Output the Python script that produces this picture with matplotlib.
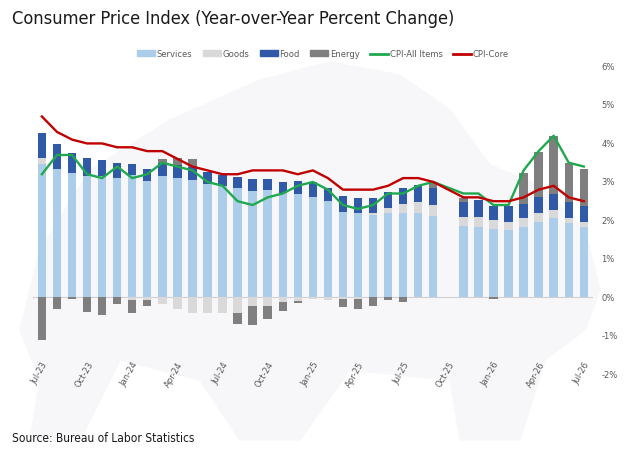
import numpy as np
import matplotlib.pyplot as plt
from matplotlib import font_manager as fm
from matplotlib.patches import Patch, Polygon
from matplotlib.lines import Line2D

months = ['Jul-23', 'Aug-23', 'Sep-23', 'Oct-23', 'Nov-23', 'Dec-23',
          'Jan-24', 'Feb-24', 'Mar-24', 'Apr-24', 'May-24', 'Jun-24',
          'Jul-24', 'Aug-24', 'Sep-24', 'Oct-24', 'Nov-24', 'Dec-24',
          'Jan-25', 'Feb-25', 'Mar-25', 'Apr-25', 'May-25', 'Jun-25',
          'Jul-25', 'Aug-25', 'Sep-25', 'Oct-25', 'Nov-25', 'Dec-25',
          'Jan-26', 'Feb-26', 'Mar-26', 'Apr-26', 'May-26', 'Jun-26',
          'Jul-26']

# contributions (pct points); Oct-25 was never published
services = [3.46, 3.34, 3.24, 3.16, 3.16, 3.11, 3.18, 3.03, 3.16, 3.11, 3.05, 2.94,
            2.90, 2.85, 2.77, 2.79, 2.72, 2.68, 2.62, 2.51, 2.23, 2.20, 2.14, 2.20,
            2.20, 2.20, 2.12, None, 1.86, 1.83, 1.77, 1.75, 1.84, 1.97, 2.06, 1.93,
            1.82]
goods = [0.15, 0.0, 0.0, 0.0, 0.0, 0.0, -0.07, -0.07, -0.16, -0.29, -0.40, -0.40,
         -0.41, -0.40, -0.22, -0.22, -0.13, -0.09, -0.04, -0.06, -0.03, -0.03, 0.05, 0.12,
         0.23, 0.27, 0.28, None, 0.24, 0.27, 0.23, 0.22, 0.23, 0.22, 0.21, 0.13,
         0.15]
food = [0.66, 0.64, 0.52, 0.45, 0.40, 0.37, 0.28, 0.31, 0.34, 0.33, 0.35, 0.33,
        0.28, 0.29, 0.31, 0.29, 0.29, 0.34, 0.39, 0.34, 0.41, 0.38, 0.40, 0.41,
        0.41, 0.44, 0.43, None, 0.37, 0.43, 0.38, 0.41, 0.36, 0.43, 0.42, 0.41,
        0.41]
energy = [-1.11, -0.31, -0.05, -0.38, -0.45, -0.16, -0.33, -0.15, 0.09, 0.17, 0.20, 0.0,
          0.0, -0.29, -0.50, -0.35, -0.22, -0.06, 0.0, 0.0, -0.22, -0.26, -0.22, -0.06,
          -0.11, 0.0, 0.15, None, 0.12, 0.0, -0.03, 0.0, 0.81, 1.15, 1.51, 1.01,
          0.96]
cpi_all = [3.2, 3.7, 3.7, 3.2, 3.1, 3.4, 3.1, 3.2, 3.5, 3.4, 3.3, 3.0,
           2.9, 2.5, 2.4, 2.6, 2.7, 2.9, 3.0, 2.8, 2.4, 2.3, 2.4, 2.7,
           2.7, 2.9, 3.0, None, 2.7, 2.7, 2.4, 2.4, 3.3, 3.8, 4.2, 3.5,
           3.4]
cpi_core = [4.7, 4.3, 4.1, 4.0, 4.0, 3.9, 3.9, 3.8, 3.8, 3.6, 3.4, 3.3,
            3.2, 3.2, 3.3, 3.3, 3.3, 3.2, 3.3, 3.1, 2.8, 2.8, 2.8, 2.9,
            3.1, 3.1, 3.0, None, 2.6, 2.6, 2.5, 2.5, 2.6, 2.8, 2.9, 2.6,
            2.5]

names = ['Services', 'Goods', 'Food', 'Energy']
colors = ['#abcdea', '#d9d9d9', '#3059a8', '#7f7f7f']
green = '#1fa84d'
red = '#c00000'
grey_txt = '#595959'

# pick a narrow face if one is installed
fonts = fm.fontManager.ttflist
names_avail = {f.name for f in fonts}
if 'Liberation Sans Narrow' in names_avail:
    narrow = dict(family='Liberation Sans Narrow')
    squeeze = 1.0
elif any(f.name == 'DejaVu Sans' and f.stretch == 'condensed' for f in fonts):
    narrow = dict(family='DejaVu Sans', stretch='condensed')
    squeeze = 0.9
else:
    narrow = dict(family='Lato')
    squeeze = 0.9

x = np.arange(len(months))
ok = np.array([v is not None for v in services])

fig = plt.figure(figsize=(6.32, 4.55), dpi=100)

# faint bull silhouette behind the chart
W, H = 632, 455
bull = [(20, 330), (40, 250), (90, 170), (170, 120), (260, 80), (330, 62),
        (400, 75), (450, 110), (490, 165), (540, 185), (585, 230), (600, 290),
        (585, 330), (545, 360), (520, 440), (460, 440), (450, 380), (350, 370),
        (300, 440), (240, 440), (200, 380), (120, 360), (80, 440), (30, 440),
        (40, 380)]
fig.patches.append(Polygon([(px / W, 1 - py / H) for px, py in bull], closed=True,
                           transform=fig.transFigure, color='#f7f7f9', zorder=-10))

ax = fig.add_axes([0.052, 0.177, 0.886, 0.677])

pos_b = np.zeros(ok.sum())
neg_b = np.zeros(ok.sum())
for name, vals, c in zip(names, [services, goods, food, energy], colors):
    v = np.array([a for a in vals if a is not None])
    p = np.where(v > 0, v, 0)
    n = np.where(v < 0, v, 0)
    ax.bar(x[ok], p, 0.56, bottom=pos_b, color=c, zorder=2)
    ax.bar(x[ok], n, 0.56, bottom=neg_b, color=c, zorder=2)
    pos_b += p
    neg_b += n

ax.plot(x[ok], [a for a in cpi_all if a is not None], color=green, lw=1.7, zorder=3)
ax.plot(x[ok], [a for a in cpi_core if a is not None], color=red, lw=1.7, zorder=3)
ax.axhline(0, color='#d0d0d0', lw=0.8, zorder=1)

ax.set_xlim(-0.6, 36.6)
ax.set_ylim(-2, 6)
ax.set_xticks(x[::3])
ax.set_xticklabels(months[::3], rotation=60, ha='right', va='top',
                   rotation_mode='anchor', fontsize=7.5 * squeeze, color=grey_txt,
                   **narrow)
ax.tick_params(axis='x', length=0, pad=-10)
ax.yaxis.tick_right()
ax.set_yticks(range(-2, 7))
ax.set_yticklabels([f'{t}%' for t in range(-2, 7)], fontsize=7.5 * squeeze,
                   color=grey_txt, **narrow)
ax.tick_params(axis='y', length=0, pad=6)
for s in ax.spines.values():
    s.set_visible(False)
ax.patch.set_alpha(0)

handles = [Patch(color=c, label=n) for n, c in zip(names, colors)]
handles += [Line2D([], [], color=green, lw=2, label='CPI-All Items'),
            Line2D([], [], color=red, lw=2, label='CPI-Core')]
fig.legend(handles=handles, loc='center', bbox_to_anchor=(0.511, 0.881), ncol=6,
           frameon=False, labelcolor=grey_txt, handlelength=1.9,
           handleheight=0.6, handletextpad=0.2, columnspacing=1.1,
           prop=fm.FontProperties(size=7.5 * squeeze, **narrow))

fig.text(0.019, 0.958, 'Consumer Price Index (Year-over-Year Percent Change)',
         fontsize=14.5 * squeeze, va='center', color='#1a1a1a', **narrow)
fig.text(0.019, 0.037, 'Source: Bureau of Labor Statistics', fontsize=9.5 * squeeze,
         va='center', color='#1a1a1a', **narrow)

fig.savefig('out.png', dpi=100)
